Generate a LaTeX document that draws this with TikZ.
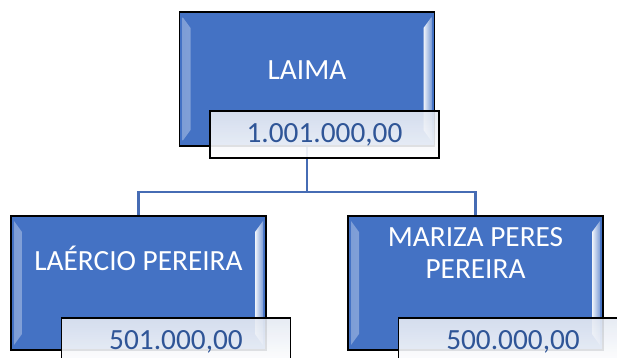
\documentclass[tikz,border=0pt]{standalone}
\usepackage{fontspec}
\setmainfont{Carlito}
\usepackage{tikz}
\usetikzlibrary{shapes,arrows,calc}
\definecolor{boxblue}{RGB}{68,114,196}
\definecolor{linkblue}{RGB}{70,108,180}
\definecolor{valblue}{RGB}{47,85,151}
\definecolor{valtop}{RGB}{228,233,242}

\begin{document}
\begin{tikzpicture}[x=1pt,y=-1pt]
\tikzstyle{person}=[rectangle,draw=black,line width=1.6pt,fill=boxblue,minimum width=255pt,minimum height=134pt,inner sep=0pt,
  path picture={
    \fill[left color=boxblue!70!white,right color=white!92!boxblue]
      ($(path picture bounding box.north west)+(3,5)$) -- ($(path picture bounding box.north west)+(11,16)$)
      -- ($(path picture bounding box.south west)+(11,-16)$) -- ($(path picture bounding box.south west)+(3,-5)$) -- cycle;
    \fill[right color=boxblue!70!white,left color=white!92!boxblue]
      ($(path picture bounding box.north east)+(-3,5)$) -- ($(path picture bounding box.north east)+(-11,16)$)
      -- ($(path picture bounding box.south east)+(-11,-16)$) -- ($(path picture bounding box.south east)+(-3,-5)$) -- cycle;
  }]
\tikzstyle{personname}=[text=white,font=\fontsize{29.3}{32}\selectfont,align=center,inner sep=0pt]
\tikzstyle{amount}=[rectangle,draw=black,line width=1.6pt,top color=valtop,bottom color=white,fill opacity=0.9,text opacity=1,
  minimum width=229pt,minimum height=47pt,text=valblue,font=\fontsize{29.3}{32}\selectfont,inner sep=0pt]
\tikzstyle{link}=[draw=linkblue,line width=2.2pt]
\clip (0,0) rectangle (617,357);

\node[person] (laima) at (307,79) {};
\node[person] (laercio) at (138.5,283) {};
\node[person] (mariza) at (475.5,283) {};

\node[personname] (laimaname) at (307,70) {LAIMA};
\node[personname] (laercioname) at (138.5,258) {LAÉRCIO PEREIRA};
\node[personname] (marizaname) at (475.5,252.5) {MARIZA PERES\\PEREIRA};

\draw[link] (laima.south) -- ++(0,45.5) -| (laercio.north);
\draw[link] (laima.south) -- ++(0,45.5) -| (mariza.north);

\node[amount] (laimaval) at (324.5,134.5) {1.001.000,00};
\node[amount] (laercioval) at (176,341.5) {501.000,00};
\node[amount] (marizaval) at (513,341.5) {500.000,00};
\end{tikzpicture}
\end{document}
